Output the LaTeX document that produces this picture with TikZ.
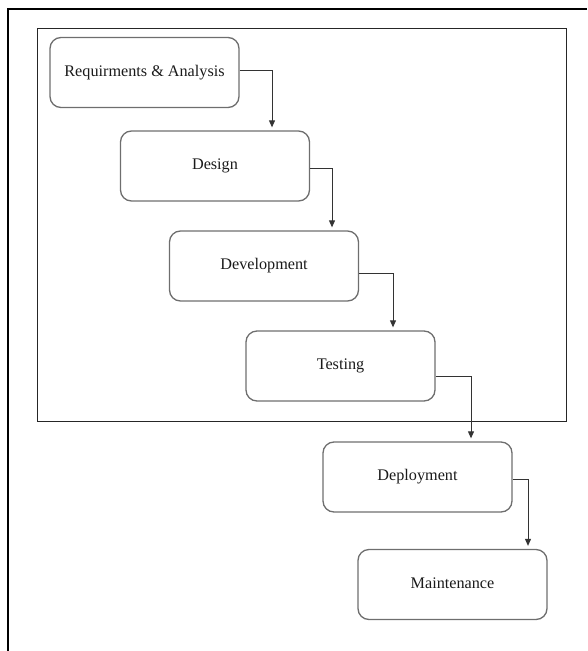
\documentclass[tikz,border=0pt]{standalone}
\usepackage{fontspec}
\setmainfont{Liberation Serif}
\usetikzlibrary{arrows.meta}
\definecolor{boxline}{HTML}{6E6E6E}
\definecolor{txt}{HTML}{1A1A1A}
\definecolor{arrline}{HTML}{333333}
\tikzset{
  phase/.style={draw=boxline, line width=1.3pt, rounded corners=11pt, minimum width=189pt, minimum height=70pt, inner sep=0pt, text=txt, font=\fontsize{16.2}{19}\selectfont},
  flow/.style={draw=arrline, line width=0.9pt, -{Triangle[length=7pt,width=6pt]}, shorten >=3pt},
  frame/.style={draw=black, line width=1.9pt},
  group/.style={draw=black!85, line width=1pt}
}
\begin{document}
\begin{tikzpicture}[x=1pt,y=-1pt]
\useasboundingbox (0,0) rectangle (587,651);
% outer frame (left and top edges only)
\draw[frame] (8,651) -- (8,9) -- (587,9);
% inner group rectangle
\draw[group] (37,28) rectangle (566,421);
% phases
\node[phase] (req) at (144.5,72.5) {\raisebox{2pt}{Requirments \& Analysis}};
\node[phase] (des) at (215,166) {\raisebox{2pt}{Design}};
\node[phase] (dev) at (264,266) {\raisebox{2pt}{Development}};
\node[phase] (tst) at (340.5,366) {\raisebox{2pt}{Testing}};
\node[phase] (dep) at (417.5,477) {\raisebox{2pt}{Deployment}};
\node[phase] (mnt) at (452.5,584.5) {\raisebox{2pt}{Maintenance}};
% connectors
\draw[flow] (req.east |- 0,70) -| (272,0 |- des.north);
\draw[flow] (des.east |- 0,168) -| (332,0 |- dev.north);
\draw[flow] (dev.east |- 0,273) -| (393,0 |- tst.north);
\draw[flow] (tst.east |- 0,376) -| (471,0 |- dep.north);
\draw[flow] (dep.east |- 0,479) -| (528,0 |- mnt.north);
\end{tikzpicture}
\end{document}
